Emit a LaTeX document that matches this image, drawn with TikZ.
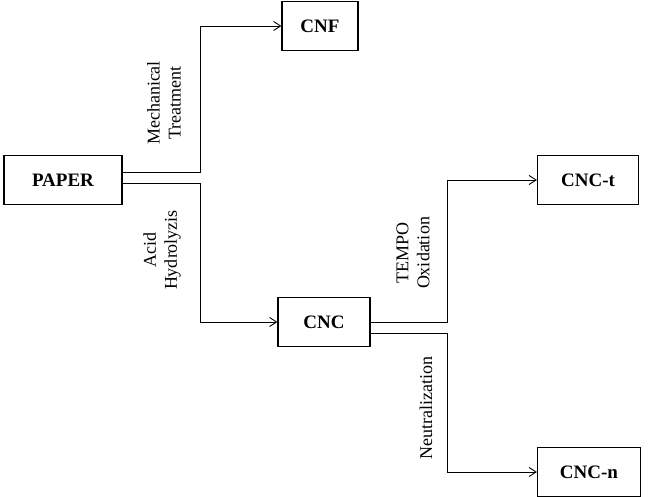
\documentclass[tikz,border=0pt]{standalone}
\usepackage{fontspec}
\setmainfont{Liberation Serif}
\usetikzlibrary{arrows.meta}
\begin{document}
\begin{tikzpicture}[x=1pt,y=-1pt,
  box/.style={draw,line width=1.2pt,minimum height=49pt,font=\bfseries\fontsize{19}{22}\selectfont,inner sep=0pt},
  con/.style={draw,line width=0.9pt},
  arr/.style={con,->,>={Straight Barb[length=7pt,width=9pt]}},
  lab/.style={rotate=90,align=center,font=\fontsize{18}{21}\selectfont}]
\useasboundingbox (0,0) rectangle (650,497);
\node[box,minimum width=118pt] (paper) at (63,180) {PAPER};
\node[box,minimum width=76pt] (cnf) at (320,26) {CNF};
\node[box,minimum width=92pt] (cnc) at (324,322) {CNC};
\node[box,minimum width=101pt] (cnct) at (588,180) {CNC-t};
\node[box,minimum width=103pt] (cncn) at (589,472) {CNC-n};
\coordinate (a1) at (200,172);
\coordinate (a2) at (200,183);
\coordinate (b1) at (447,322);
\coordinate (b2) at (447,333);
\draw[arr] (paper.east|-a1) -- (a1) |- (cnf.west);
\draw[arr] (paper.east|-a2) -- (a2) |- (cnc.west);
\draw[arr] (cnc.east|-b1) -- (b1) |- (cnct.west);
\draw[arr] (cnc.east|-b2) -- (b2) |- (cncn.west);
\node[lab] (l1) at (164,103) {Mechanical\\Treatment};
\node[lab] (l2) at (162,250) {Acid\\Hydrolyzis};
\node[lab] (l3) at (413,253) {TEMPO\\Oxidation};
\node[lab] (l4) at (426,408) {Neutralization};
\end{tikzpicture}
\end{document}
